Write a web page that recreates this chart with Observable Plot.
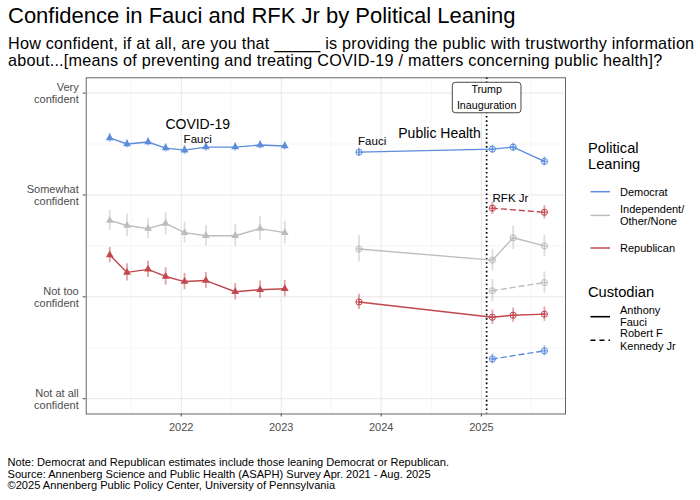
<!DOCTYPE html>
<html><head><meta charset="utf-8">
<script src="https://cdn.jsdelivr.net/npm/d3@7"></script>
<script src="https://cdn.jsdelivr.net/npm/@observablehq/plot@0.6"></script>
<style>
body{margin:0;background:#fff;font-family:"Liberation Sans",Arial,Helvetica,sans-serif;color:#000;}
#wrap{position:relative;width:700px;height:500px;overflow:hidden;background:#fff;}
#title{position:absolute;left:8px;top:4.4px;font-size:22px;line-height:24px;white-space:nowrap;}
#subtitle{position:absolute;left:8px;top:34.5px;font-size:16.2px;line-height:17.2px;letter-spacing:0.23px;white-space:nowrap;}
#chart{position:absolute;left:0;top:72px;}
#caption{position:absolute;left:7.5px;top:456.8px;font-size:11.1px;line-height:11.8px;white-space:nowrap;}
.lg{position:absolute;white-space:nowrap;}
.lgt{font-size:14.7px;line-height:16px;left:588px;}
.lgi{font-size:11px;line-height:12.4px;left:620px;}
</style></head><body>
<div id="wrap">
  <div id="title">Confidence in Fauci and RFK Jr by Political Leaning</div>
  <div id="subtitle">How confident, if at all, are you that _____ is providing the public with trustworthy information<br>about...[means of preventing and treating COVID-19 / matters concerning public health]?</div>
  <div id="chart"></div>
  <div id="legend"></div>
  <div id="caption">Note: Democrat and Republican estimates include those leaning Democrat or Republican.<br>Source: Annenberg Science and Public Health (ASAPH) Survey Apr. 2021 - Aug. 2025<br>©2025 Annenberg Public Policy Center, University of Pennsylvania</div>
</div>
<script>
// ---------- data ----------
const parties = ["Democrat", "Independent/Other/None", "Republican"];
const partyLegendLabels = ["Democrat", "Independent/\nOther/None", "Republican"];
const partyColors = ["#5b8ddc", "#bdbdbd", "#c2474e"];
const custodians = ["Anthony Fauci", "Robert F Kennedy Jr"];
const custodianLegendLabels = ["Anthony\nFauci", "Robert F\nKennedy Jr"];

const confidenceLevels = [1, 2, 3, 4];
const confidenceLabels = ["Not at all\nconfident", "Not too\nconfident", "Somewhat\nconfident", "Very\nconfident"];

// COVID-19 question (Fauci)
const covidDates = ["2021-04-15","2021-06-17","2021-09-02","2021-11-05","2022-01-13","2022-04-01","2022-07-17","2022-10-16","2023-01-14"];
const demCovid = [3.56, 3.50, 3.52, 3.46, 3.44, 3.47, 3.47, 3.49, 3.48];
const indCovid = [2.75, 2.70, 2.67, 2.72, 2.63, 2.60, 2.60, 2.67, 2.63];
const repCovid = [2.41, 2.24, 2.27, 2.20, 2.15, 2.16, 2.05, 2.07, 2.08];
const demCovidErr = [0.045, 0.04, 0.04, 0.04, 0.045, 0.04, 0.04, 0.04, 0.04];
const indCovidErr = [0.10, 0.11, 0.10, 0.11, 0.10, 0.10, 0.11, 0.12, 0.11];
const repCovidErr = [0.075, 0.085, 0.08, 0.085, 0.08, 0.08, 0.08, 0.085, 0.08];

// Public health question (Fauci)
const phFauciDates = ["2023-10-12","2025-02-10","2025-04-27","2025-08-19"];
const demFauciPH = [3.42, 3.45, 3.47, 3.33];
const indFauciPH = [2.47, 2.36, 2.58, 2.50];
const repFauciPH = [1.95, 1.80, 1.82, 1.83];
const demFauciPHErr = [0.04, 0.04, 0.04, 0.045];
const indFauciPHErr = [0.13, 0.105, 0.115, 0.105];
const repFauciPHErr = [0.075, 0.07, 0.07, 0.07];

// Public health question (RFK Jr)
const phRfkDates = ["2025-02-10","2025-08-19"];
const demRfk = [1.39, 1.47];
const indRfk = [2.06, 2.14];
const repRfk = [2.87, 2.83];
const demRfkErr = [0.05, 0.05];
const indRfkErr = [0.11, 0.105];
const repRfkErr = [0.06, 0.065];

const inauguration = ["2025-01-20"];
const inaugurationLabel = "Trump\nInauguration";

const yearTicks = ["2022-01-01","2023-01-01","2024-01-01","2025-01-01"];
const halfYearTicks = ["2021-07-02","2022-07-02","2023-07-02","2024-07-02","2025-07-02"];
const minorLevels = [1.5, 2.5, 3.5];
const xDomain = ["2021-01-19","2025-11-04"];
const yDomain = [0.85, 4.15];

const bigLabels = ["COVID-19", "Public Health"];
const bigLabelDates = ["2022-03-02", "2024-08-01"];
const bigLabelValues = [3.694, 3.606];
const smallLabels = ["Fauci", "Fauci", "RFK Jr"];
const smallLabelDates = ["2022-03-02", "2023-11-29", "2025-04-17"];
const smallLabelValues = [3.544, 3.527, 2.97];

// ---------- build table ----------
const D = s => new Date(s + "T00:00:00Z");
const rows = [];
function add(dates, vals, errs, party, custodian, segment) {
  dates.forEach((d, i) => rows.push({date: D(d), value: vals[i], err: errs[i], party, custodian, segment,
    series: party + "|" + custodian + "|" + segment}));
}
add(covidDates, demCovid, demCovidErr, parties[0], custodians[0], "covid");
add(covidDates, indCovid, indCovidErr, parties[1], custodians[0], "covid");
add(covidDates, repCovid, repCovidErr, parties[2], custodians[0], "covid");
add(phFauciDates, demFauciPH, demFauciPHErr, parties[0], custodians[0], "ph");
add(phFauciDates, indFauciPH, indFauciPHErr, parties[1], custodians[0], "ph");
add(phFauciDates, repFauciPH, repFauciPHErr, parties[2], custodians[0], "ph");
add(phRfkDates, demRfk, demRfkErr, parties[0], custodians[1], "ph");
add(phRfkDates, indRfk, indRfkErr, parties[1], custodians[1], "ph");
add(phRfkDates, repRfk, repRfkErr, parties[2], custodians[1], "ph");

const bigAnno = bigLabels.map((t, i) => ({text: t, date: D(bigLabelDates[i]), value: bigLabelValues[i]}));
const smallAnno = smallLabels.map((t, i) => ({text: t, date: D(smallLabelDates[i]), value: smallLabelValues[i]}));

const circlePlus = {
  draw(ctx, size) {
    const r = Math.sqrt(size / Math.PI);
    ctx.moveTo(r, 0); ctx.arc(0, 0, r, 0, 2 * Math.PI);
    ctx.moveTo(-r, 0); ctx.lineTo(r, 0);
    ctx.moveTo(0, -r); ctx.lineTo(0, r);
  }
};

const gridMajor = "#e6e6e6", gridMinor = "#f2f2f2";
const axisColor = "#4d4d4d";

const chart = Plot.plot({
  width: 700, height: 368,
  marginTop: 5.3, marginBottom: 26.5, marginLeft: 85.7, marginRight: 135,
  style: {fontFamily: '"Liberation Sans", Arial, Helvetica, sans-serif', background: "transparent"},
  x: {type: "utc", domain: xDomain.map(D)},
  y: {domain: yDomain},
  color: {domain: parties, range: partyColors},
  marks: [
    Plot.gridX(halfYearTicks.map(D), {stroke: gridMinor, strokeOpacity: 1, strokeWidth: 0.7}),
    Plot.gridY(minorLevels, {stroke: gridMinor, strokeOpacity: 1, strokeWidth: 0.7}),
    Plot.gridX(yearTicks.map(D), {stroke: gridMajor, strokeOpacity: 1, strokeWidth: 1}),
    Plot.gridY(confidenceLevels, {stroke: gridMajor, strokeOpacity: 1, strokeWidth: 1}),
    Plot.axisY(confidenceLevels, {tickFormat: d => confidenceLabels[d - 1], tickSize: 3, tickPadding: 4.5,
      fontSize: 11, lineHeight: 1.12, color: axisColor, label: null}),
    Plot.axisX(yearTicks.map(D), {tickFormat: "%Y", tickSize: 3, tickPadding: 6, fontSize: 11, color: axisColor, label: null}),
    Plot.ruleX(inauguration.map(D), {stroke: "#000", strokeWidth: 1.7, strokeDasharray: "1.6,2.7"}),
    Plot.ruleX(rows, {x: "date", y1: d => d.value - d.err, y2: d => d.value + d.err, stroke: "party", strokeOpacity: 0.5, strokeWidth: 1.8}),
    Plot.line(rows.filter(d => d.custodian === custodians[0]), {x: "date", y: "value", z: "series", stroke: "party", strokeWidth: 1.4}),
    Plot.line(rows.filter(d => d.custodian === custodians[1]), {x: "date", y: "value", z: "series", stroke: "party", strokeWidth: 1.4, strokeDasharray: "5,4"}),
    Plot.dot(rows.filter(d => d.segment === "covid"), {x: "date", y: "value", fill: "party", symbol: "triangle", r: 2.9}),
    Plot.dot(rows.filter(d => d.segment === "ph"), {x: "date", y: "value", stroke: "party", fill: "none", symbol: circlePlus, r: 3.1, strokeWidth: 1}),
    Plot.text(bigAnno, {x: "date", y: "value", text: "text", fontSize: 14, fill: "#000"}),
    Plot.text(smallAnno, {x: "date", y: "value", text: "text", fontSize: 11.5, fill: "#000"}),
    Plot.text(inauguration.map(D), {x: d => d, frameAnchor: "top", lineAnchor: "top", dy: 3.7, text: () => inaugurationLabel,
      fontSize: 10.7, lineHeight: 1.5, fill: "#000"}),
    Plot.frame({stroke: "#555", strokeWidth: 0.9})
  ]
});
document.getElementById("chart").appendChild(chart);

// rounded box behind the inauguration label
d3.select(chart).selectAll("text").each(function() {
  if (this.textContent.includes("Inauguration")) {
    const b = this.getBBox();
    const rect = document.createElementNS("http://www.w3.org/2000/svg", "rect");
    rect.setAttribute("x", b.x - 4.6);
    rect.setAttribute("y", b.y - 0.6);
    rect.setAttribute("width", b.width + 9.2);
    rect.setAttribute("height", b.height + 2.4);
    rect.setAttribute("rx", 3);
    rect.setAttribute("fill", "#fff");
    rect.setAttribute("stroke", "#333");
    rect.setAttribute("stroke-width", 0.9);
    const tr = this.getAttribute("transform");
    if (tr) rect.setAttribute("transform", tr);
    this.parentNode.insertBefore(rect, this);
  }
});

// ---------- legend (HTML text + small SVG keys) ----------
const lg = document.getElementById("legend");
function addText(cls, text, centerY, lh) {
  const el = document.createElement("div");
  el.className = "lg " + cls;
  const n = text.split("\n").length;
  el.style.top = (centerY - n * lh / 2) + "px";
  el.innerHTML = text.split("\n").join("<br>");
  lg.appendChild(el);
}
addText("lgt", "Political\nLeaning", 156, 16);
const partyKeyY = [191.7, 215.4, 248];
parties.forEach((p, i) => addText("lgi", partyLegendLabels[i], partyKeyY[i], 12.4));
addText("lgt", "Custodian", 291.7, 16);
const custKeyY = [316, 339.5];
custodians.forEach((c, i) => addText("lgi", custodianLegendLabels[i], custKeyY[i], 12.4));

const keySvg = d3.create("svg").attr("width", 26).attr("height", 200)
  .style("position", "absolute").style("left", "588px").style("top", "170px");
parties.forEach((p, i) => keySvg.append("line").attr("x1", 2.5).attr("x2", 22).attr("y1", partyKeyY[i] - 170).attr("y2", partyKeyY[i] - 170)
  .attr("stroke", partyColors[i]).attr("stroke-width", 1.5));
custodians.forEach((c, i) => keySvg.append("line").attr("x1", 2.5).attr("x2", 22).attr("y1", custKeyY[i] + 0.7 - 170).attr("y2", custKeyY[i] + 0.7 - 170)
  .attr("stroke", "#000").attr("stroke-width", 1.6).attr("stroke-dasharray", i ? "5,4" : null));
lg.appendChild(keySvg.node());
</script>
</body></html>
